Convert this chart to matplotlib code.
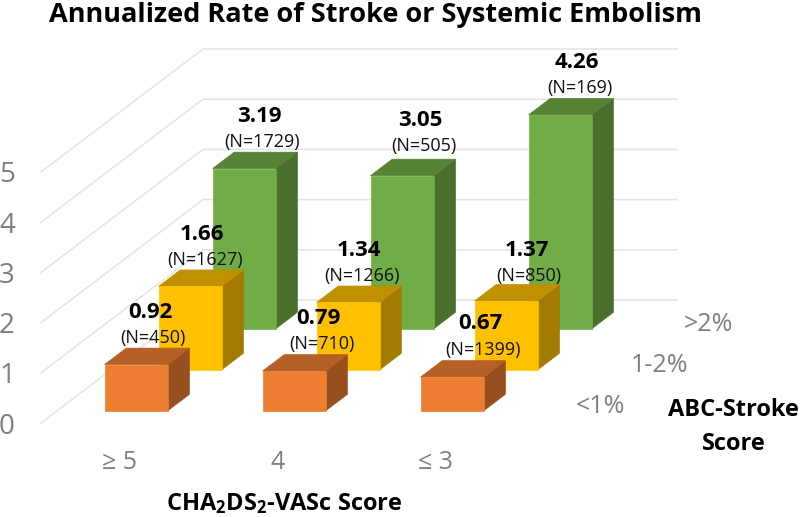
import matplotlib
matplotlib.use("Agg")
import matplotlib.pyplot as plt
from matplotlib.patches import Polygon

plt.rcParams['font.family'] = ['Open Sans', 'DejaVu Sans']
plt.rcParams['mathtext.default'] = 'regular'

# --- DATA ---
score_labels = ["≥ 5", "4", "≤ 3"]
abc_labels = ["<1%", "1-2%", ">2%"]
value_ticks = [0, 1, 2, 3, 4, 5]

rate_low = [0.92, 0.79, 0.67]
rate_mid = [1.66, 1.34, 1.37]
rate_high = [3.19, 3.05, 4.26]
n_low = [450, 710, 1399]
n_mid = [1627, 1266, 850]
n_high = [1729, 505, 169]

# --- LAYOUT (pixels of the 800x517 picture) ---
X0, Y0 = 41.0, 423.0   # front left corner of the floor
CAT_W = 158.0          # one category along x
DEP_X, DEP_Y = 54.0, 41.0  # one series along the depth
UNIT = 50.2            # one value unit
BAR = 0.4              # bar width / depth as a share of a slot
GAP = 0.3
TXT_DY = 2.5           # va='center' sits a bit high for these fonts

front_cols = ['#ED7D31', '#FFC000', '#70AD47']
top_cols = ['#B65F26', '#BF9000', '#588234']
side_cols = ['#974F20', '#A37B00', '#4A6F2D']
GRID = '#E4E4E4'
GREY = '#7F7F7F'

# label centres, same order as the rate lists: (rate x, rate y, N x, N y)
pos_low = [(150, 310, 153, 335), (318, 316, 322, 341), (480, 321, 483, 347)]
pos_mid = [(202, 232, 205, 258), (359, 248, 362, 273), (527, 248, 529, 274)]
pos_high = [(259, 114, 262, 140), (420, 118, 424, 144), (577, 60, 580, 86)]


def project(c, d, v):
    # oblique projection: category, depth, value -> picture pixels
    return X0 + c * CAT_W + d * DEP_X, Y0 - d * DEP_Y - v * UNIT


def draw_box(ax, cat, ser, value):
    c0, c1 = cat + GAP, cat + GAP + BAR
    d0, d1 = ser + GAP, ser + GAP + BAR
    front = [project(c0, d0, 0), project(c1, d0, 0), project(c1, d0, value), project(c0, d0, value)]
    top = [project(c0, d0, value), project(c1, d0, value), project(c1, d1, value), project(c0, d1, value)]
    side = [project(c1, d0, 0), project(c1, d1, 0), project(c1, d1, value), project(c1, d0, value)]
    for pts, col in [(side, side_cols[ser]), (top, top_cols[ser]), (front, front_cols[ser])]:
        ax.add_patch(Polygon(pts, closed=True, facecolor=col, edgecolor=col, lw=0.5, zorder=3 + (2 - ser)))


fig = plt.figure(figsize=(8, 5.17), dpi=100)
ax = fig.add_axes([0, 0, 1, 1])
ax.set_xlim(0, 800)
ax.set_ylim(517, 0)
ax.axis('off')

# --- WALL GRID ---
for v in value_ticks:
    xa, ya = project(0, 0, v)
    xb, yb = project(0, 3, v)
    xc, yc = project(3, 3, v)
    ax.plot([xa, xb, xc], [ya, yb, yc], color=GRID, lw=1.1, zorder=1)
    ax.text(7, ya + 1 + TXT_DY, str(v), color=GREY, fontsize=20, ha='center', va='center')

# --- BARS ---
for ser, rates in enumerate([rate_low, rate_mid, rate_high]):
    for cat, val in enumerate(rates):
        draw_box(ax, cat, ser, val)

# --- BAR LABELS ---
for rates, ns, places in [(rate_high, n_high, pos_high), (rate_mid, n_mid, pos_mid), (rate_low, n_low, pos_low)]:
    for val, n, (xr, yr, xn, yn) in zip(rates, ns, places):
        ax.text(xr, yr + TXT_DY, f"{val:.2f}", fontsize=16, fontweight='bold', ha='center', va='center', color='black', zorder=10)
        ax.text(xn, yn + TXT_DY, f"(N={n})", fontsize=13, ha='center', va='center', color='#111111', zorder=10)

# --- AXIS TEXT ---
for x, lab in zip([120, 278, 436], score_labels):
    ax.text(x, 460 + TXT_DY, lab, color=GREY, fontsize=18, ha='center', va='center')
for (x, y), lab in zip([(600, 404), (659, 363), (708, 322)], abc_labels):
    ax.text(x, y + TXT_DY, lab, color=GREY, fontsize=18, ha='center', va='center')

ax.text(375, 22.5, "Annualized Rate of Stroke or Systemic Embolism", fontsize=19.5, fontweight='bold',
        ha='center', va='baseline', color='black')
ax.text(284, 501 + TXT_DY, "CHA$_2$DS$_2$-VASc Score", fontsize=17, fontweight='bold', ha='center', va='center', color='black')
ax.text(733, 407 + TXT_DY, "ABC-Stroke", fontsize=17, fontweight='bold', ha='center', va='center', color='black')
ax.text(734, 441 + TXT_DY, "Score", fontsize=17, fontweight='bold', ha='center', va='center', color='black')

fig.savefig("out.png", dpi=100)
